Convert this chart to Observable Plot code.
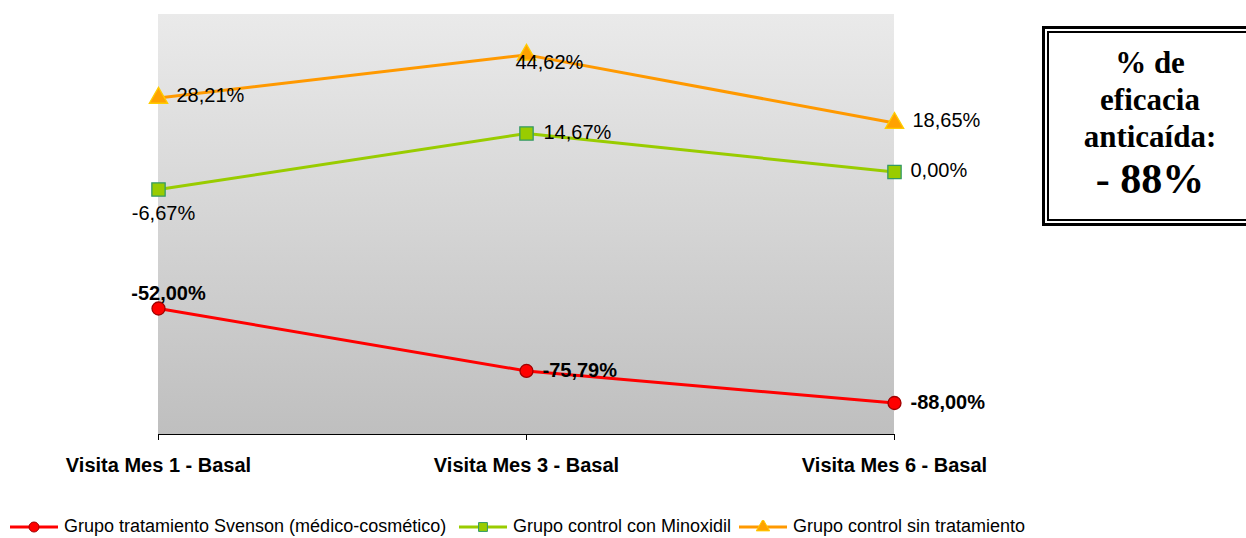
<!DOCTYPE html>
<html>
<head>
<meta charset="utf-8">
<script src="https://cdn.jsdelivr.net/npm/d3@7"></script>
<script src="https://cdn.jsdelivr.net/npm/@observablehq/plot@0.6"></script>
<style>
  html, body { margin: 0; padding: 0; background: #fff; }
  body { width: 1246px; height: 538px; overflow: hidden; position: relative; font-family: "Liberation Sans", Arial, sans-serif; }
  #chart { position: absolute; left: 0; top: 0; }
  #legend { position: absolute; left: 0; top: 490px; width: 1246px; height: 48px; }
  .item { position: absolute; top: 26px; height: 21px; display: flex; align-items: center; font-size: 18px; line-height: 21px; color: #000; white-space: nowrap; }
  .item svg { margin-right: 6px; }
  #callout { position: absolute; left: 1042px; top: 26px; width: 216px; height: 200px; box-sizing: border-box; border: 3px solid #000; padding: 2px; background: #fff; }
  #callout .inner { box-sizing: border-box; width: 100%; height: 100%; border: 2px solid #000; text-align: center; font-family: "Liberation Serif", "Times New Roman", serif; font-weight: bold; color: #000; padding-top: 11px; }
  #callout .l { font-size: 31px; line-height: 37px; }
  #callout .big { font-size: 42px; line-height: 48px; }
</style>
</head>
<body>
<div id="chart"></div>
<div id="legend"></div>
<div id="callout"><div class="inner"></div></div>
<script>
// ---- data ----
const categories = ["Visita Mes 1 - Basal", "Visita Mes 3 - Basal", "Visita Mes 6 - Basal"];
const svensonValues = [-52.00, -75.79, -88.00];
const minoxidilValues = [-6.67, 14.67, 0.00];
const sinTratamientoValues = [28.21, 44.62, 18.65];
const seriesNames = [
  "Grupo tratamiento Svenson (médico-cosmético)",
  "Grupo control con Minoxidil",
  "Grupo control sin tratamiento"
];
const calloutLines = ["% de", "eficacia", "anticaída:", "- 88%"];
const yDomain = [-100, 60];

// ---- styles ----
const styles = [
  {line: "#ff0000", fill: "#ff0000", stroke: "#a00000", symbol: "circle", r: 6.5},
  {line: "#99cc00", fill: "#99cc00", stroke: "#339966", symbol: "square", r: 7.5},
  {line: "#ff9900", fill: "#ffa200", stroke: "#ffcc00", symbol: "triangle", r: 6.8}
];

const seriesValues = [svensonValues, minoxidilValues, sinTratamientoValues];
const rows = seriesValues.map(vals => categories.map((c, i) => ({cat: c, value: vals[i]})));

const fmt = v => v.toFixed(2).replace(".", ",") + "%";

const W = 1246, H = 490;
const mL = 158, mR = 352, mT = 14, mB = 56;

function background(index, scales, values, dimensions) {
  const d = dimensions || {width: W, height: H, marginLeft: mL, marginRight: mR, marginTop: mT, marginBottom: mB};
  const g = d3.create("svg:g");
  const grad = g.append("defs").append("linearGradient")
    .attr("id", "bgGrad").attr("x1", 0).attr("y1", 0).attr("x2", 0).attr("y2", 1);
  grad.append("stop").attr("offset", "0%").attr("stop-color", "#eaeaea");
  grad.append("stop").attr("offset", "100%").attr("stop-color", "#bfbfbf");
  g.append("rect")
    .attr("x", d.marginLeft).attr("y", d.marginTop)
    .attr("width", d.width - d.marginLeft - d.marginRight)
    .attr("height", d.height - d.marginTop - d.marginBottom)
    .attr("fill", "url(#bgGrad)");
  return g.node();
}

function label(series, i, opts) {
  return Plot.text([rows[series][i]], {
    x: "cat", y: "value", text: d => fmt(d.value),
    fontSize: 20, fill: "#000", ...opts
  });
}

const marks = [background, Plot.ruleY([yDomain[0]], {stroke: "#000", strokeWidth: 1})];
rows.forEach((data, s) => {
  marks.push(Plot.lineY(data, {x: "cat", y: "value", stroke: styles[s].line, strokeWidth: 3}));
});
rows.forEach((data, s) => {
  marks.push(Plot.dot(data, {x: "cat", y: "value", symbol: styles[s].symbol, r: styles[s].r,
    fill: styles[s].fill, stroke: styles[s].stroke, strokeWidth: 1.3}));
});
// labels: orange series
marks.push(label(2, 0, {textAnchor: "start", dx: 18, dy: -2}));
marks.push(label(2, 1, {textAnchor: "start", dx: -11, dy: 8}));
marks.push(label(2, 2, {textAnchor: "start", dx: 18, dy: -2}));
// green series
marks.push(label(1, 0, {textAnchor: "middle", dx: 5, dy: 24}));
marks.push(label(1, 1, {textAnchor: "start", dx: 17, dy: -1}));
marks.push(label(1, 2, {textAnchor: "start", dx: 16, dy: -1}));
// red series
marks.push(label(0, 0, {textAnchor: "middle", dx: 10, dy: -15, fontWeight: "bold"}));
marks.push(label(0, 1, {textAnchor: "start", dx: 16, dy: 0, fontWeight: "bold"}));
marks.push(label(0, 2, {textAnchor: "start", dx: 16, dy: 0, fontWeight: "bold"}));

marks.push(Plot.axisX({tickSize: 6, tickPadding: 17, fontSize: 20, fontWeight: "bold", label: null, stroke: "#000", fill: "#000"}));

const chart = Plot.plot({
  width: W, height: H,
  marginLeft: mL, marginRight: mR, marginTop: mT, marginBottom: mB,
  style: {fontFamily: "'Liberation Sans', Arial, sans-serif", background: "transparent", overflow: "visible"},
  x: {type: "point", domain: categories, padding: 0},
  y: {domain: yDomain, axis: null},
  marks
});
document.getElementById("chart").appendChild(chart);

// ---- legend ----
const legendLefts = [10, 459, 739];
const legend = d3.select("#legend");
seriesNames.forEach((name, s) => {
  const item = legend.append("div").attr("class", "item").style("left", legendLefts[s] + "px");
  const sw = item.append("svg").attr("width", 48).attr("height", 14);
  sw.append("line").attr("x1", 0).attr("x2", 48).attr("y1", 7).attr("y2", 7)
    .attr("stroke", styles[s].line).attr("stroke-width", 3);
  const sym = {circle: d3.symbolCircle, square: d3.symbolSquare, triangle: d3.symbolTriangle}[styles[s].symbol];
  sw.append("path").attr("transform", "translate(24,7)")
    .attr("d", d3.symbol(sym, Math.PI * 5 * 5)())
    .attr("fill", styles[s].fill).attr("stroke", styles[s].stroke).attr("stroke-width", 1);
  item.append("span").text(name);
});

// ---- callout ----
const inner = d3.select("#callout .inner");
calloutLines.forEach((t, i) => {
  inner.append("div").attr("class", i === calloutLines.length - 1 ? "big" : "l").text(t);
});
</script>
</body>
</html>
